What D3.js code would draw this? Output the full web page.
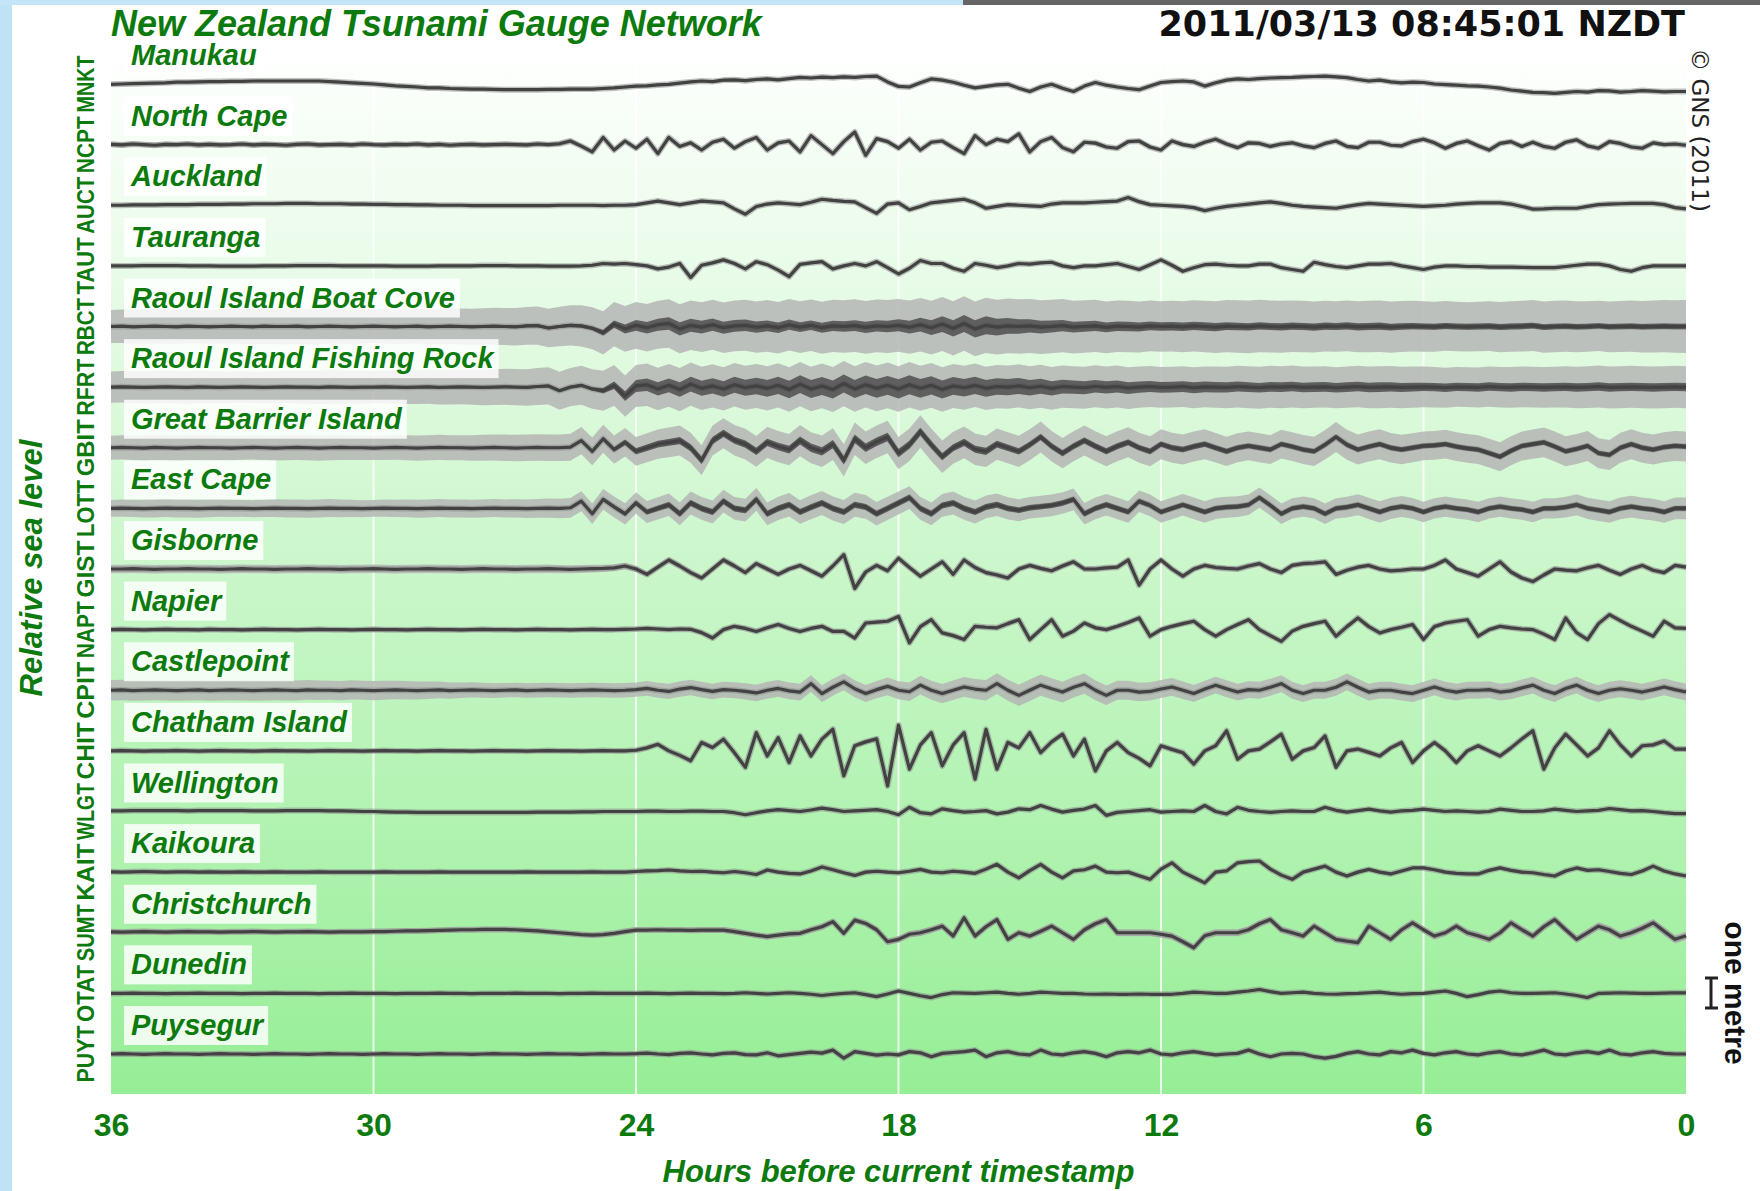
<!DOCTYPE html>
<html>
<head>
<meta charset="utf-8">
<script src="https://cdn.jsdelivr.net/npm/d3@7"></script>
<style>
  body { margin: 0; background: #fff; }
  svg { display: block; }
</style>
</head>
<body>
<svg id="chart" width="1760" height="1191"></svg>
<script>
const stations = ["Manukau", "North Cape", "Auckland", "Tauranga", "Raoul Island Boat Cove",
  "Raoul Island Fishing Rock", "Great Barrier Island", "East Cape", "Gisborne", "Napier",
  "Castlepoint", "Chatham Island", "Wellington", "Kaikoura", "Christchurch", "Dunedin", "Puysegur"];
const codes = ["MNKT", "NCPT", "AUCT", "TAUT", "RBCT", "RFRT", "GBIT", "LOTT", "GIST", "NAPT",
  "CPIT", "CHIT", "WLGT", "KAIT", "SUMT", "OTAT", "PUYT"];
const hourTicks = [36, 30, 24, 18, 12, 6, 0];
const gridHours = [30, 24, 18, 12, 6];
const stepHours = 0.25;   // one sample every 15 minutes, starting 36 h back

// sea level residual (cm), 145 samples from 36 h back to the timestamp
const manukau = [
  -1,0,1,2,3,4,6,6,7,8,8,9, 9,10,10,10,10,10,10,10,8,6,4,2,
  0,-3,-6,-8,-10,-13,-13,-15,-16,-17,-17,-18, -19,-19,-19,-19,-18,-18,-17,-17,-17,-15,-13,-10,
  -7,-6,-3,-1,3,7,10,8,13,14,11,15, 17,14,18,22,20,23,21,24,22,25,26,7,
  -8,-10,4,17,13,6,-4,-13,-8,-3,-1,-14, -25,-10,-1,-14,-25,-7,5,-4,-10,-15,-19,-7,
  5,8,10,7,-7,4,13,17,15,18,20,21, 22,24,25,26,24,21,15,10,13,7,4,6,
  5,0,-2,-4,-6,-7,-10,-14,-20,-24,-28,-29, -31,-28,-25,-27,-22,-23,-27,-25,-22,-24,-26,-25,-25];
const northCape = [
  1,-1,2,0,-2,1,0,2,-1,1,-1,0, 2,-1,1,0,-2,1,2,-1,0,1,-1,2,
  0,-1,1,0,2,-1,1,-2,0,1,-1,0, 1,0,-1,2,0,3,12,-5,-24,24,-18,12,
  -12,18,-30,24,-6,6,-18,8,18,-12,10,24, -18,6,12,-24,30,0,-30,10,42,-36,20,10,
  -12,18,-18,8,12,-10,-30,30,0,18,10,36, -24,10,24,-10,-24,8,5,-8,-12,10,12,-8,
  -18,12,0,-6,8,18,2,-10,6,4,-6,2, 6,-4,-10,4,12,-6,-10,8,8,-2,-4,10,
  18,6,-12,4,12,-4,-18,4,10,-6,8,-6, -12,8,16,-4,-12,10,4,-8,-12,6,0,2,-2];
const auckland = [
  0,0,1,1,1,2,2,2,3,3,3,4, 4,5,5,5,6,6,6,5,5,5,4,4,
  3,3,2,2,1,1,0,0,0,-1,-1,-1, -1,-1,-1,-1,-1,0,0,0,0,-1,0,0,
  2,8,14,8,2,8,14,11,8,-12,-30,-4, 4,8,5,2,10,20,16,13,11,-8,-27,4,
  8,-15,-4,8,12,16,20,8,-10,-4,2,0, -2,-4,4,8,8,8,10,12,14,26,12,2,
  0,-2,-4,-8,-18,-10,-4,0,4,8,11,6, 0,-4,-6,-8,-10,-4,2,6,4,2,0,-2,
  -4,-2,0,4,6,8,8,8,4,-4,-13,-12, -10,-10,-10,-4,2,4,5,6,6,6,2,-8,-12];
const tauranga = [
  0,0,0,1,1,1,1,0,0,0,-1,-1, -1,-1,0,0,0,1,1,1,1,0,0,0,
  0,0,-1,-1,-1,-1,0,0,0,0,1,1, 1,0,0,0,-1,-1,-1,0,2,8,6,8,
  4,0,-10,-4,8,-39,2,10,20,8,-10,14, 4,-14,-36,5,10,14,-10,0,8,0,14,-6,
  -27,-8,18,8,8,-8,-18,8,2,-6,0,8, 6,10,12,0,-6,0,0,4,8,-2,-12,4,
  20,2,-18,-6,4,6,2,0,0,6,6,-6, -12,-18,12,4,-2,-6,0,6,6,8,0,-6,
  -12,-4,0,0,-2,-2,-4,-4,-4,-5,-6,-6, -6,-2,2,6,6,0,-12,-18,-6,0,0,0,0];
const raoulBoat = [
  0,1,-1,0,1,0,-1,1,0,-1,0,1, 0,-1,1,0,0,1,-1,0,1,0,-1,0,
  1,0,-1,0,1,-1,0,1,0,-1,0,1, 0,-1,2,3,-5,0,4,2,-6,-21,8,-8,
  4,-4,6,10,-8,4,-2,6,-4,2,4,-2, 2,-4,6,-2,4,-4,2,0,3,-3,2,0,
  4,-2,6,-4,8,-6,10,-8,4,-2,2,0, 2,-2,0,3,-2,0,2,-3,1,0,-2,2,
  0,1,-1,2,0,-2,1,0,-1,2,0,-1, 1,0,-2,1,0,2,-1,0,1,-2,0,1,
  0,-1,2,0,-1,0,1,-2,0,1,3,-2, 0,1,-1,0,2,-1,0,1,-1,0,1,0,0];
const raoulFishing = [
  0,1,0,-1,0,1,0,-1,1,0,-1,0, 1,0,-1,0,1,0,0,-1,1,0,-1,0,
  0,1,0,-1,0,1,-1,0,1,0,-1,0, 1,0,-1,2,4,-12,0,6,-6,-12,6,-30,
  4,8,-6,6,-8,10,-4,4,-6,8,-2,4, -4,6,-8,10,-6,4,-8,12,-6,8,-4,6,
  -6,8,-4,6,-8,4,-2,6,-4,2,0,4, -2,3,-4,2,0,-2,3,-1,2,-3,0,2,
  -1,0,2,-2,1,0,-1,2,0,-2,1,0, 2,-1,0,1,-2,0,2,-1,0,1,-1,0,
  1,0,-2,1,0,-1,2,0,-1,1,0,-1, 0,1,-1,0,2,-1,0,1,0,-1,0,1,0];
const greatBarrier = [
  0,1,0,-1,1,0,-1,0,1,0,0,-1, 0,1,0,-1,0,1,0,-1,0,1,0,0,
  -1,0,1,0,-1,0,1,0,0,-1,0,1, 0,-1,0,1,0,0,2,24,-12,30,-6,18,
  -12,0,12,18,24,0,-42,24,48,25,12,-12, 18,4,-6,24,0,-12,12,-42,30,0,20,36,
  -18,10,54,10,-30,0,18,-5,-12,12,0,-12, 10,36,5,-18,5,24,5,-12,5,18,0,-12,
  12,0,-6,4,12,0,-12,0,6,0,-6,12, 4,-6,-12,10,36,10,-6,4,12,0,-6,0,
  6,8,12,4,-2,-6,-18,-30,-10,6,12,18, 4,-12,-4,6,-18,-24,0,12,0,-6,2,6,4];
const eastCape = [
  0,1,0,-1,0,1,0,0,-1,0,1,0, 0,-1,0,1,0,0,-1,0,1,0,0,-1,
  0,1,0,0,-1,0,1,0,0,-1,0,1, 0,0,-1,0,1,0,2,24,-18,30,5,-18,
  18,-12,0,12,-18,18,0,-12,24,0,-6,30, -18,0,12,-12,4,18,0,-12,12,5,-18,0,
  18,36,0,-18,10,18,0,-12,5,12,0,-6, 2,6,10,18,30,-18,0,12,0,-12,24,10,
  -12,0,12,0,-12,0,4,6,12,36,10,-18, 0,6,0,-18,0,4,12,0,-12,0,6,0,
  -12,0,6,0,-4,-12,0,6,0,-4,-12,0, 0,4,12,0,-6,-12,0,6,0,-4,-12,0,0];
const gisborne = [
  0,0,1,0,-1,0,0,1,0,0,-1,0, 1,0,0,-1,0,0,1,0,0,-1,0,0,
  1,0,-1,0,0,1,0,0,-1,0,1,0, 0,-1,0,0,1,0,-1,0,1,2,4,10,
  0,-18,6,30,10,-12,-30,0,30,10,-12,18, 0,-18,0,12,-6,-24,10,48,-65,-10,12,-6,
  36,5,-24,0,24,-18,30,5,-12,-20,-30,0, 12,2,-6,10,24,0,0,4,6,30,-54,0,
  30,0,-24,0,12,5,2,0,10,18,0,-12, 12,18,20,24,-18,-4,6,12,0,-6,-4,0,
  0,12,30,0,-12,-24,0,24,-10,-30,-42,-20, 0,-4,-6,4,12,-4,-18,0,12,-4,-12,12,6];
const napier = [
  0,1,0,-1,0,1,0,0,-1,1,0,0, -1,0,1,0,0,-1,0,1,0,0,-1,0,
  1,0,0,-1,0,1,0,0,-1,0,1,0, 0,-1,0,1,0,0,-1,0,1,0,0,1,
  2,4,2,0,2,1,-10,-28,0,11,4,-6, 6,17,4,-6,4,11,-6,-6,-28,22,25,28,
  44,-44,10,33,-11,-20,-33,11,8,6,20,33, -33,0,33,-22,-5,22,6,0,11,24,39,-22,
  0,11,20,28,0,-22,0,17,33,0,-20,-39, -5,11,20,28,-22,10,39,10,-11,0,8,17,
  -33,10,22,28,33,-22,0,11,6,2,0,-15, -33,39,-10,-33,20,50,30,11,-5,-22,28,6,4];
const castlepoint = [
  0,1,-1,0,1,0,-1,0,1,-1,0,1, 0,-1,0,1,0,-1,1,0,0,-1,1,0,
  -1,0,1,0,-1,0,1,-1,0,1,0,-1, 0,1,-1,0,1,0,-1,0,1,0,-1,0,
  2,6,0,-4,4,9,2,-4,2,0,-4,-9, 0,6,-2,-6,22,-11,10,28,5,-11,2,13,
  0,-5,17,0,-11,0,11,4,0,22,0,-17, 0,17,5,-6,10,22,0,-17,0,0,-6,-4,
  4,11,0,-11,4,17,5,-6,2,0,10,22, 0,-11,0,0,10,28,10,-6,0,0,-6,-11,
  0,11,0,-6,0,0,2,-6,-2,8,17,0, -11,6,17,0,-11,0,5,0,-6,2,11,2,-6];
const chatham = [
  0,1,0,-1,0,0,1,0,-1,0,1,0, 0,-1,0,1,0,0,-1,0,1,0,0,-1,
  0,1,0,0,-1,0,1,0,0,-1,0,1, 0,0,-1,0,1,0,0,-1,0,1,0,0,
  2,10,22,0,-15,-33,28,11,39,-6,-55,61, -17,44,-39,50,-17,39,72,-83,17,30,40,-117,
  86,-61,20,61,-50,20,61,-94,72,-61,28,10, 61,-6,30,56,-17,39,-67,0,28,-6,-25,-50,
  17,5,-6,-44,0,17,67,-28,0,6,30,56, -28,0,11,50,-55,0,6,-5,-17,10,28,-39,
  0,28,0,-39,0,17,0,-17,10,40,67,-61, 10,56,20,-17,10,67,20,-17,17,20,33,6,6];
const wellington = [
  2,2,3,3,3,3,3,2,3,3,3,3, 3,2,2,2,3,3,3,3,2,2,1,0,
  0,-1,-2,-2,-3,-3,-3,-3,-3,-3,-3,-3, -3,-3,-3,-2,-2,-2,-2,-1,-1,0,0,0,
  0,1,1,0,0,1,1,0,0,-4,-11,-4, 2,6,3,0,5,11,6,0,2,4,6,0,
  -11,14,-4,-8,9,3,-2,0,3,-8,-2,9, 6,20,8,-2,4,8,20,-13,-3,0,3,6,
  -2,0,2,0,20,0,-8,14,4,0,-3,0, 2,0,0,14,4,-2,3,8,2,-2,2,4,
  8,4,0,2,0,-2,0,8,4,0,0,2, 8,4,0,2,4,10,6,2,3,0,-4,-7,-7];
const kaikoura = [
  1,0,1,2,1,0,1,1,0,1,0,0, 1,0,0,1,0,0,0,1,0,0,0,0,
  0,1,0,0,0,0,1,0,0,0,0,0, 0,0,1,0,0,0,0,0,1,0,0,0,
  2,4,5,7,4,2,3,0,-2,2,-2,-8, 7,0,-4,-6,4,17,8,-2,-11,0,3,0,
  -2,3,9,0,-2,3,0,-4,10,26,0,-19, 5,26,0,-19,4,8,20,0,-2,0,-12,-24,
  10,31,0,-18,-36,0,4,31,35,37,10,-10, -24,0,10,20,0,-13,0,9,0,-6,4,14,
  14,8,0,-4,-6,-6,6,14,6,0,-2,-8, -13,4,14,6,8,2,-4,-8,4,20,4,-6,-13];
const christchurch = [
  3,2,3,4,3,2,3,4,3,3,2,3, 3,4,3,2,3,3,4,3,2,3,3,3,
  4,4,5,6,6,7,8,9,10,10,11,11, 11,10,8,6,3,0,-3,-6,-8,-6,-2,4,
  9,9,10,9,9,8,9,9,9,4,-2,-8, -13,-8,-4,-2,10,20,37,-2,42,31,10,-30,
  -22,-5,0,10,22,-11,50,-11,20,44,-22,0, -11,5,22,0,-22,10,30,44,0,0,0,0,
  -5,-11,-30,-50,-10,0,0,0,10,30,44,10, 0,-11,22,0,-22,-28,-33,22,0,-22,10,33,
  10,-11,0,22,0,-10,-22,0,33,10,-11,20, 44,10,-22,0,22,10,-11,0,15,33,5,-22,-10];
const dunedin = [
  0,0,1,0,0,-1,0,0,1,0,0,0, -1,0,0,1,0,0,0,-1,0,0,1,0,
  0,0,-1,0,0,0,1,0,0,-1,0,0, 0,1,0,0,0,-1,0,0,1,0,0,0,
  0,1,0,-1,0,1,0,0,-1,0,2,0, -2,0,2,0,-3,-7,-3,0,2,-4,-11,-2,
  8,0,-8,-14,-4,2,1,0,2,4,0,-3, 0,4,2,0,0,-2,-3,-2,-3,-3,-2,-3,
  -3,-3,0,4,2,0,0,4,8,13,6,0, 2,4,0,-2,-3,-1,0,2,4,0,-3,-1,
  0,4,8,0,-11,-4,4,8,2,0,0,1, 2,-2,-7,-14,0,1,2,1,0,0,1,2,2];
const puysegur = [
  0,1,0,-1,0,1,0,0,-1,0,1,0, 0,-1,0,1,0,0,-1,0,1,0,0,-1,
  0,1,0,0,-1,0,1,0,0,-1,0,1, 0,0,-1,0,1,0,0,-1,0,1,0,0,
  1,3,0,-2,2,4,0,-3,2,4,-2,-3, 4,-6,-2,2,6,3,13,-14,8,2,-4,0,
  -3,8,4,-9,2,5,8,13,-9,4,8,0, -3,13,0,-3,4,8,2,-9,4,8,4,13,
  0,-3,4,8,2,-3,0,2,13,0,-9,0, 2,0,-9,-14,-8,2,8,0,-3,8,4,13,
  2,-3,4,8,0,-3,4,8,0,-3,4,13, 0,-3,4,8,2,13,0,-3,4,8,2,0,0];

// half-width of the grey min/max band (cm), hourly from 36 h back
const quietSpread   = [4,4,4,4,4,4,4,4,4,4,4,4,4,4,4,4,4,4,4,4,4,4,4,4,4,4,4,4,4,4,4,4,4,4,4,4,4];
const northSpread   = [9,9,9,9,9,9,9,9,9,9,8,7,6,6,6,6,6,6,6,6,6,6,6,6,6,6,6,6,6,6,6,6,6,6,6,6,6];
const rbcSpread     = [55,58,56,58,60,58,56,58,60,62,64,70,78,82,84,86,86,88,88,90,92,90,88,86,84,86,88,86,84,86,84,82,84,86,84,86,88];
const rfrSpread     = [52,54,54,52,54,56,54,56,58,60,62,66,70,72,72,74,74,76,76,74,72,72,70,70,68,68,70,70,68,70,68,66,68,68,70,70,70];
const gbiSpread     = [40,42,42,40,42,42,40,42,42,44,44,46,48,50,50,52,52,54,54,54,52,52,50,50,50,50,48,48,50,50,48,48,48,50,50,50,50];
const eastSpread    = [28,30,30,28,30,30,28,30,30,30,32,34,36,38,38,38,40,40,38,38,38,36,36,36,36,36,34,34,34,36,34,34,34,34,36,36,36];
const gisSpread     = [14,14,14,14,14,14,14,14,14,14,14,13,10,9,8,8,8,8,8,8,8,8,8,8,8,8,8,8,8,8,8,8,8,8,8,8,8];
const napSpread     = [7,7,7,7,7,7,7,7,7,7,7,7,7,7,7,7,7,7,7,7,7,7,7,7,7,7,7,7,7,7,7,7,7,7,7,7,7];
const castleSpread  = [34,34,34,34,34,32,32,30,26,24,24,24,24,26,26,28,28,28,30,32,34,36,34,32,30,28,28,28,28,28,28,28,28,28,28,28,28];
const chathamSpread = [6,6,6,6,6,6,6,6,6,6,6,6,7,8,8,8,8,8,8,8,8,8,8,8,8,8,8,8,8,8,8,8,8,8,8,8,8];
const kaiSpread     = [6,6,6,6,6,6,6,6,6,6,6,6,6,6,6,6,6,6,6,6,6,6,6,6,6,6,6,6,6,6,6,6,6,6,6,6,6];
const chchSpread    = [9,9,9,9,9,9,9,9,9,9,9,9,9,9,10,10,10,10,11,11,11,11,12,12,12,12,12,12,12,12,12,12,13,13,13,14,14];
const puySpread     = [7,7,7,7,7,7,7,7,7,7,7,7,7,7,7,7,7,7,7,7,7,7,7,7,7,7,7,7,7,7,7,7,7,7,7,7,7];

// half-width of the dark fast-oscillation band (cm), hourly
const rbcCore  = [4,4,4,4,4,4,4,4,4,4,5,6,18,22,20,18,16,18,20,26,30,22,18,16,14,14,12,12,12,12,10,10,10,9,9,9,9];
const rfrCore  = [4,4,4,4,4,4,4,4,4,4,4,5,20,24,26,28,30,30,32,30,28,26,22,20,18,18,16,16,16,16,14,14,14,14,14,14,14];
const gbiCore  = [3,3,3,3,3,3,3,3,3,3,3,5,10,12,12,12,14,14,14,12,12,10,10,10,9,9,8,8,8,8,8,8,8,8,8,8,8];
const eastCore = [3,3,3,3,3,3,3,3,3,3,3,4,8,10,10,10,10,10,10,10,10,9,9,9,8,8,8,8,8,8,8,8,8,8,8,8,8];

const series  = [manukau, northCape, auckland, tauranga, raoulBoat, raoulFishing, greatBarrier,
  eastCape, gisborne, napier, castlepoint, chatham, wellington, kaikoura, christchurch, dunedin, puysegur];
const spreads = [quietSpread, northSpread, quietSpread, quietSpread, rbcSpread, rfrSpread, gbiSpread,
  eastSpread, gisSpread, napSpread, castleSpread, chathamSpread, quietSpread, kaiSpread, chchSpread, quietSpread, puySpread];
const cores = [null, null, null, null, rbcCore, rfrCore, gbiCore, eastCore, null, null, null, null, null, null, null, null, null];

const green = "#0d7a0d";
const font = "'Liberation Sans', Arial, sans-serif";
const svg = d3.select("#chart");
const plot = { left: 111, right: 1686, top: 45, bottom: 1094 };

const x = d3.scaleLinear().domain([36, 0]).range([plot.left, plot.right]);
const row = d3.scalePoint().domain(stations).range([84, 1054]);
const amp = d3.scaleLinear().domain([0, 100]).range([0, -30]);   // one metre = 30 px

// screenshot edges
svg.append("rect").attr("x", 0).attr("y", 0).attr("width", 12).attr("height", 1191).attr("fill", "#bfe2f6");
svg.append("rect").attr("x", 0).attr("y", 0).attr("width", 963).attr("height", 5).attr("fill", "#c4e4f7");
svg.append("rect").attr("x", 963).attr("y", 0).attr("width", 797).attr("height", 5).attr("fill", "#666");

// sea-green background
const grad = svg.append("defs").append("linearGradient")
  .attr("id", "sea").attr("x1", 0).attr("y1", 0).attr("x2", 0).attr("y2", 1);
grad.append("stop").attr("offset", "0%").attr("stop-color", "#ffffff");
grad.append("stop").attr("offset", "100%").attr("stop-color", "#96ee96");

svg.append("rect")
  .attr("x", plot.left).attr("y", plot.top)
  .attr("width", plot.right - plot.left).attr("height", plot.bottom - plot.top)
  .attr("fill", "url(#sea)");

svg.append("g").selectAll("line")
  .data(gridHours)
  .enter().append("line")
  .attr("x1", d => x(d)).attr("x2", d => x(d))
  .attr("y1", plot.top).attr("y2", plot.bottom)
  .attr("stroke", "#fff").attr("stroke-width", 2).attr("stroke-opacity", 0.8);

// hourly band widths spread onto the 15-minute samples
function bandAt(arr, i) {
  const k = i * stepHours, k0 = Math.floor(k), k1 = Math.min(arr.length - 1, k0 + 1);
  return arr[k0] + (arr[k1] - arr[k0]) * (k - k0);
}

const line = d3.line().x(d => x(d.h)).y(d => d.y);
const band = d3.area().x(d => x(d.h)).y0(d => d.y - d.w).y1(d => d.y + d.w);

const traces = svg.append("g");
stations.forEach((name, s) => {
  const base = row(name);
  const pts = series[s].map((v, i) => ({
    h: 36 - i * stepHours,
    y: base + amp(v),
    spread: -amp(bandAt(spreads[s], i)),
    core: cores[s] ? -amp(bandAt(cores[s], i)) : 0
  }));
  const g = traces.append("g");
  g.append("path")
    .attr("d", band(pts.map(p => ({ h: p.h, y: p.y, w: p.spread }))))
    .attr("fill", "#b5b5b5").attr("fill-opacity", 0.85);
  g.append("path")
    .attr("d", line(pts))
    .attr("fill", "none").attr("stroke", "#8d8d8d").attr("stroke-width", 6)
    .attr("stroke-opacity", 0.55).attr("stroke-linejoin", "round");
  if (cores[s]) {
    g.append("path")
      .attr("d", band(pts.map(p => ({ h: p.h, y: p.y, w: p.core }))))
      .attr("fill", "#3f3f3f").attr("fill-opacity", 0.75);
  }
  g.append("path")
    .attr("d", line(pts))
    .attr("fill", "none").attr("stroke", "#424242").attr("stroke-width", 3.2)
    .attr("stroke-linejoin", "round");
});

// station name tags
const tags = svg.append("g");
stations.forEach(name => {
  const yb = row(name) - 19;
  const box = tags.append("rect").attr("fill", "#fff").attr("fill-opacity", 0.82);
  const t = tags.append("text")
    .attr("x", 131).attr("y", yb)
    .attr("font-family", font).attr("font-size", 29)
    .attr("font-weight", "bold").attr("font-style", "italic")
    .attr("fill", green).text(name);
  const len = t.node().getComputedTextLength();
  box.attr("x", 124).attr("y", yb - 29).attr("width", len + 12).attr("height", 39);
});

// station codes down the left edge, squeezed to one row pitch
svg.append("g").selectAll("text")
  .data(stations)
  .enter().append("text")
  .attr("transform", (d) => `translate(86,${row(d)}) rotate(-90)`)
  .attr("text-anchor", "middle").attr("dominant-baseline", "central")
  .attr("font-family", font).attr("font-size", 23).attr("font-weight", "bold")
  .attr("textLength", 57).attr("lengthAdjust", "spacingAndGlyphs")
  .attr("fill", green)
  .text((d, i) => codes[i]);

// time axis
const axis = svg.append("g")
  .attr("transform", `translate(0,${plot.bottom})`)
  .call(d3.axisBottom(x).tickValues(hourTicks).tickFormat(d3.format("d")).tickSize(0).tickPadding(19));
axis.select(".domain").remove();
axis.selectAll("text")
  .attr("font-family", font).attr("font-size", 32).attr("font-weight", "bold").attr("fill", green);

svg.append("text")
  .attr("x", (plot.left + plot.right) / 2).attr("y", 1182)
  .attr("text-anchor", "middle")
  .attr("font-family", font).attr("font-size", 31).attr("font-weight", "bold").attr("font-style", "italic")
  .attr("fill", green).text("Hours before current timestamp");

svg.append("text")
  .attr("transform", "translate(31,568) rotate(-90)")
  .attr("text-anchor", "middle").attr("dominant-baseline", "central")
  .attr("font-family", font).attr("font-size", 31).attr("font-weight", "bold").attr("font-style", "italic")
  .attr("fill", green).text("Relative sea level");

// header
svg.append("text")
  .attr("x", plot.left).attr("y", 36)
  .attr("font-family", font).attr("font-size", 36).attr("font-weight", "bold").attr("font-style", "italic")
  .attr("fill", green).text("New Zealand Tsunami Gauge Network");

svg.append("text")
  .attr("x", plot.right - 1).attr("y", 36).attr("text-anchor", "end")
  .attr("font-family", "'DejaVu Sans', sans-serif").attr("font-size", 35).attr("font-weight", "bold")
  .attr("fill", "#111").text("2011/03/13 08:45:01 NZDT");

svg.append("text")
  .attr("transform", "translate(1700,130) rotate(90)")
  .attr("text-anchor", "middle").attr("dominant-baseline", "central")
  .attr("font-family", "'DejaVu Sans', sans-serif").attr("font-size", 23)
  .attr("fill", "#222").text("© GNS (2011)");

// one metre scale bar
const barY = 993, barX = 1711;
const bar = svg.append("g").attr("stroke", "#222").attr("stroke-width", 3);
bar.append("line").attr("x1", barX).attr("x2", barX).attr("y1", barY + amp(50)).attr("y2", barY + amp(-50));
bar.append("line").attr("x1", barX - 6).attr("x2", barX + 7).attr("y1", barY + amp(50)).attr("y2", barY + amp(50));
bar.append("line").attr("x1", barX - 6).attr("x2", barX + 7).attr("y1", barY + amp(-50)).attr("y2", barY + amp(-50));

svg.append("text")
  .attr("transform", `translate(1735,${barY}) rotate(90)`)
  .attr("text-anchor", "middle").attr("dominant-baseline", "central")
  .attr("font-family", font).attr("font-size", 30).attr("font-weight", "bold")
  .attr("fill", "#111").text("one metre");
</script>
</body>
</html>
